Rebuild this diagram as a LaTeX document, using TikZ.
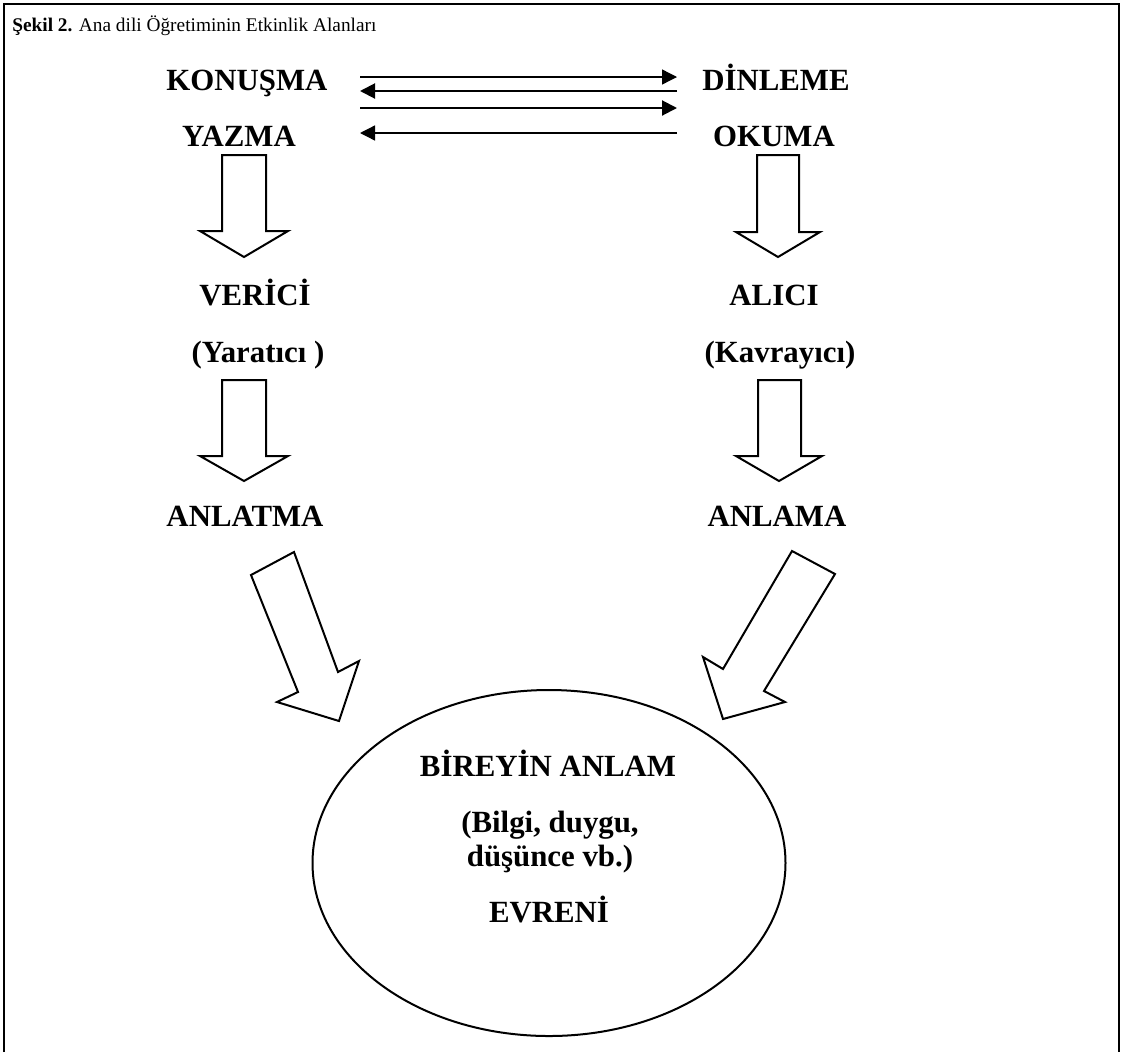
\documentclass[tikz,border=0pt]{standalone}
\usepackage{fontspec}
\setmainfont{Liberation Serif}
\usetikzlibrary{positioning}
\usetikzlibrary{arrows.meta, shapes.geometric}

\tikzset{
  skill/.style={anchor=base, inner sep=0pt, font=\fontsize{18.5}{22}\selectfont\bfseries},
  thinarrow/.style={-{Triangle[length=9pt, width=9pt]}, line width=0.8pt},
  thickarrow/.style={-{Triangle[length=9pt, width=9pt]}, line width=1.2pt},
  blockarrow/.style={draw, line width=1.2pt, line join=miter, fill=white},
}

\begin{document}
\begin{tikzpicture}[x=0.6pt, y=-0.6pt]
       \useasboundingbox (0,0) rectangle (1121,1052);
       \draw[line width=1.6pt] (4,1052) -- (4,4) -- (1119,4) -- (1119,1052);

       \node[anchor=base west,
             inner sep=0pt,
             font=\fontsize{11.6}{14}\selectfont] (title) at (12,31) {\textbf{Şekil 2.} Ana dili Öğretiminin Etkinlik Alanları};

       % skills
       \node[skill] (konusma) at (247,90) {KONUŞMA};
       \node[skill] (yazma) at (239,146) {YAZMA};
       \node[skill] (dinleme) at (776,90) {DİNLEME};
       \node[skill] (okuma) at (774,146) {OKUMA};

       \node[skill] (verici) at (255,305) {VERİCİ};
       \node[skill] (yaratici) at (258,362) {(Yaratıcı )};
       \node[skill] (alici) at (774,305) {ALICI};
       \node[skill] (kavrayici) at (780,362) {(Kavrayıcı)};

       \node[skill] (anlatma) at (245,526) {ANLATMA};
       \node[skill] (anlama) at (777,526) {ANLAMA};

       % universe
       \node[ellipse,
             draw,
             line width=1.2pt,
             inner sep=0pt,
             minimum width=283.8pt,
             minimum height=207.6pt] (evren) at (549,863) {};
       \node[skill] (bireyin) at (548,776) {BİREYİN ANLAM};
       \node[skill] (bilgi) at (550,832) {(Bilgi, duygu,};
       \node[skill] (dusunce) at (550,866) {düşünce vb.)};
       \node[skill] (evreni) at (549,922) {EVRENİ};

       % thin arrows between the two columns
       \coordinate (k1) at (360,77);  \coordinate (d1) at (677,77);
       \coordinate (k2) at (360,91);  \coordinate (d2) at (677,91);
       \coordinate (k3) at (360,108); \coordinate (d3) at (677,108);
       \coordinate (k4) at (360,133); \coordinate (d4) at (677,133);
       \draw [thinarrow] (k1) -- (d1);
       \draw [thickarrow] (d2) -- (k2);
       \draw [thickarrow] (k3) -- (d3);
       \draw [thinarrow] (d4) -- (k4);

       % block arrows
       \draw [blockarrow] (222,155) -- (266,155) -- (266,231) -- (288,231) -- (244,257) -- (200,231) -- (222,231) -- cycle;
       \draw [blockarrow] (757,155) -- (799,155) -- (799,232) -- (820,232) -- (778,257) -- (736,232) -- (757,232) -- cycle;
       \draw [blockarrow] (222,380) -- (266,380) -- (266,456) -- (288,456) -- (244,481) -- (200,456) -- (222,456) -- cycle;
       \draw [blockarrow] (758,380) -- (801,380) -- (801,456) -- (822,456) -- (779,481) -- (736,456) -- (758,456) -- cycle;

       \draw [blockarrow] (251,575) -- (294,552) -- (338,672) -- (359,661) -- (339,721) -- (277,702) -- (298,692) -- cycle;
       \draw [blockarrow] (792,551) -- (835,574) -- (764,691) -- (785,702) -- (723,719) -- (703,657) -- (723,669) -- cycle;
\end{tikzpicture}
\end{document}
